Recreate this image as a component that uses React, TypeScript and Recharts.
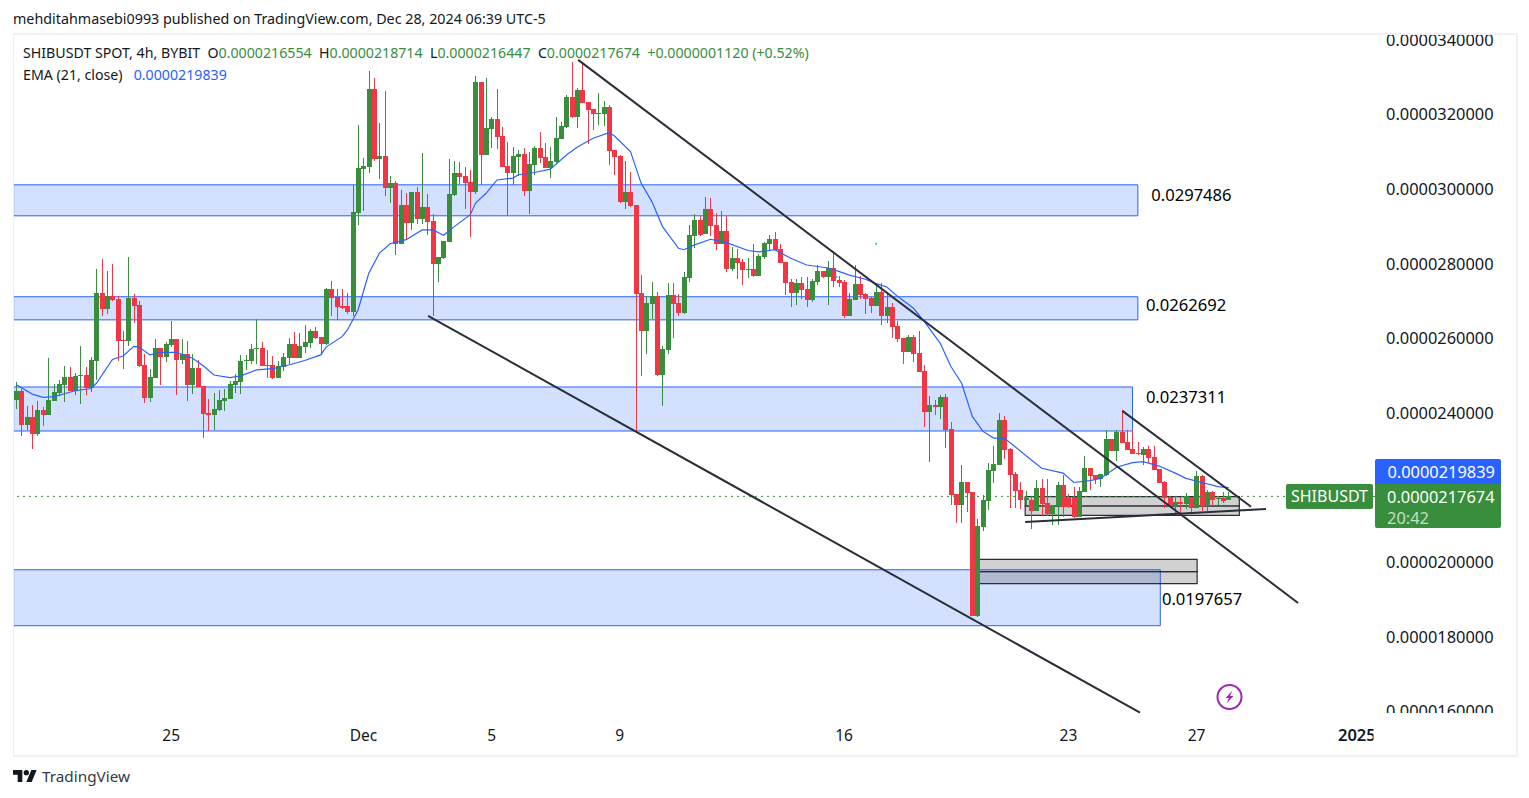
import React from 'react';
import {
    ComposedChart,
    Bar,
    Line,
    XAxis,
    YAxis,
    ReferenceArea,
    ReferenceLine,
    ReferenceDot
} from 'recharts';

// all prices are in millionths of a USDT (24.00 = 0.0000240000)
const opens = [
    24.34,24.58,23.65,23.88,23.42,24.07,23.93,24.31,24.52,24.74,
    24.95,24.58,24.98,25.00,24.66,25.38,27.20,26.78,27.12,27.04,
    25.94,25.90,27.07,26.88,25.27,24.39,24.93,25.73,25.49,25.81,
    25.97,25.41,25.57,24.74,25.19,24.71,23.99,23.93,24.07,24.31,
    24.36,24.74,24.82,25.38,25.38,25.70,25.73,25.27,25.27,24.93,
    25.22,25.46,25.84,25.46,25.76,25.86,26.19,26.02,25.84,27.31,
    27.10,26.86,26.86,26.69,29.35,30.53,30.58,32.67,30.80,30.88,
    30.02,30.15,28.52,29.56,29.08,29.91,29.19,29.51,29.13,27.98,
    28.14,28.57,29.83,30.42,30.34,30.18,29.91,32.86,30.90,31.60,
    31.87,31.41,30.61,30.42,30.85,30.93,29.94,30.63,31.09,30.85,
    30.56,30.72,31.33,31.65,32.46,31.92,32.65,32.32,32.14,32.00,
    32.00,32.19,31.04,30.88,29.64,29.91,29.56,27.20,26.18,26.91,
    27.12,25.00,25.68,27.15,26.94,26.67,27.61,28.73,29.16,28.79,
    29.46,29.03,28.52,28.87,27.85,28.14,28.04,27.82,27.85,27.66,
    28.17,28.52,28.65,28.38,28.04,27.50,27.20,27.47,27.31,27.02,
    27.50,27.79,27.63,27.87,27.55,27.50,26.59,27.02,27.45,27.18,
    27.07,26.85,27.23,26.59,26.83,26.32,26.00,25.62,26.02,25.59,
    25.11,24.01,24.20,24.15,24.41,23.56,21.81,21.52,22.14,21.87,
    18.54,20.93,21.63,22.43,22.59,23.80,23.02,22.35,21.92,21.65,
    21.65,21.36,21.98,21.57,21.28,21.49,22.06,21.73,21.73,21.20,
    21.87,22.51,22.32,22.22,22.32,23.29,22.97,23.48,23.21,23.02,
    22.91,22.86,23.02,22.81,22.48,22.14,21.73,21.49,21.60,21.55,
    21.73,21.44,22.30,21.49,21.87,21.68,21.71,21.6554
];
const highs = [
    24.82,24.63,24.17,24.20,24.31,24.15,25.46,24.76,24.87,25.25,
    25.22,25.06,25.78,25.22,25.49,27.85,28.12,27.79,27.98,27.12,
    26.19,28.17,27.18,26.99,25.57,25.17,25.97,25.73,25.89,26.46,
    25.97,25.97,25.92,25.57,25.41,24.71,24.36,24.52,24.60,24.63,
    24.85,25.03,25.54,25.54,25.84,26.51,25.89,25.68,25.52,25.38,
    25.60,26.00,26.16,26.13,26.35,26.24,26.29,26.02,27.34,27.53,
    27.31,27.31,27.20,30.10,31.71,30.81,33.16,32.97,31.76,32.62,
    30.34,30.21,29.97,29.89,29.91,30.05,30.96,29.86,29.32,28.17,
    28.60,30.80,30.74,30.72,30.58,30.50,33.02,32.86,32.97,31.92,
    32.67,31.65,31.25,31.12,31.04,31.09,30.98,31.15,31.52,31.23,
    31.12,31.92,31.79,32.51,33.40,32.70,33.40,32.32,32.14,32.57,
    32.35,32.24,31.04,30.90,30.74,30.45,29.56,27.69,27.12,27.50,
    27.23,25.78,27.47,27.47,27.18,27.77,29.03,29.32,29.27,29.78,
    29.75,29.35,29.40,29.27,28.44,28.38,28.12,28.14,28.52,28.25,
    28.57,28.76,28.84,28.52,28.04,27.58,27.58,27.63,27.63,27.58,
    27.95,27.79,28.06,28.33,27.66,27.55,27.20,27.95,27.66,27.20,
    27.10,27.39,27.47,27.23,26.94,26.45,26.00,26.08,26.08,26.18,
    25.27,24.44,24.33,24.47,24.50,23.75,21.81,22.59,22.14,21.87,
    21.14,21.79,22.65,23.10,23.99,23.91,23.05,22.40,22.14,21.90,
    21.73,22.19,22.22,22.22,21.52,22.14,22.32,21.81,22.00,22.00,
    22.83,22.51,22.32,22.35,23.53,23.29,23.53,24.07,23.53,23.53,
    23.21,23.07,23.10,23.10,22.48,22.16,21.76,21.76,21.73,21.84,
    21.73,22.43,22.32,21.92,21.90,21.76,21.87,21.8714
];
const lows = [
    24.09,23.38,23.53,23.02,23.38,23.65,23.93,24.31,24.44,24.28,
    24.58,24.47,24.23,24.47,24.55,24.87,26.59,26.64,26.99,25.38,
    25.17,25.78,26.40,25.22,24.26,24.28,24.93,24.74,25.35,25.76,
    24.47,25.30,24.31,24.50,24.68,23.32,23.50,23.53,24.04,24.04,
    24.36,24.52,24.50,25.14,25.30,25.30,25.25,24.93,24.90,24.93,
    25.11,25.30,25.46,25.46,25.60,25.73,25.97,25.54,25.81,26.59,
    26.48,26.78,26.64,26.60,29.03,29.40,30.42,30.74,30.26,29.80,
    29.62,28.22,28.52,28.65,28.89,29.05,29.05,28.76,26.59,27.50,
    28.12,28.57,29.80,30.14,29.46,28.71,29.86,30.10,30.90,31.09,
    31.06,30.58,29.27,30.10,30.34,29.80,29.32,30.37,30.69,30.56,
    30.29,30.69,31.33,31.63,31.90,31.63,32.30,31.20,31.57,31.71,
    31.68,30.63,30.37,29.62,29.46,29.51,23.49,24.98,25.57,26.51,
    24.98,24.17,25.57,26.00,26.59,26.64,27.50,28.41,28.73,28.79,
    28.73,28.36,28.52,27.77,27.79,27.58,27.42,27.61,27.63,27.66,
    28.12,28.36,28.36,28.01,27.15,26.83,26.88,27.04,26.83,26.96,
    27.42,27.61,26.88,27.36,27.36,26.53,26.59,27.02,27.04,26.64,
    26.67,26.85,26.35,26.40,26.00,25.89,25.30,25.62,25.35,25.09,
    23.61,22.68,23.93,23.82,23.05,21.52,21.04,21.04,21.33,18.54,
    18.52,20.82,21.39,22.11,22.59,22.75,21.44,21.44,21.41,21.52,
    20.88,21.36,21.22,21.22,20.98,20.98,21.20,21.44,21.17,21.20,
    21.87,21.92,22.08,22.00,22.30,22.97,22.70,23.18,22.99,22.89,
    22.86,22.59,22.65,22.46,22.11,21.44,21.44,21.28,21.25,21.41,
    21.33,21.44,21.36,21.36,21.49,21.52,21.57,21.6447
];
const closes = [
    24.58,23.65,23.88,23.42,24.07,23.93,24.34,24.55,24.76,24.95,
    24.58,24.98,25.00,24.66,25.41,27.20,26.78,27.12,27.02,25.92,
    25.90,27.07,26.86,25.25,24.39,24.95,25.73,25.49,25.84,25.97,
    25.41,25.57,24.74,25.19,24.68,23.96,23.93,24.09,24.34,24.39,
    24.76,24.85,25.38,25.41,25.70,25.73,25.25,25.25,24.93,25.25,
    25.49,25.84,25.46,25.78,25.89,26.19,26.00,25.84,27.31,27.07,
    26.83,26.80,26.69,29.38,30.56,30.61,32.67,30.80,30.88,30.02,
    30.15,28.52,29.56,29.08,29.91,29.19,29.51,29.11,27.98,28.17,
    28.60,29.86,30.42,30.31,30.15,29.91,32.86,30.90,31.63,31.87,
    31.39,30.58,30.42,30.88,30.93,29.94,30.66,31.09,30.82,30.56,
    30.74,31.36,31.68,32.46,31.92,32.65,32.30,32.11,32.00,32.03,
    32.19,31.01,30.85,29.64,29.91,29.54,27.18,26.18,26.94,27.12,
    25.00,25.70,27.15,26.91,26.67,27.63,28.76,29.16,28.76,29.46,
    29.00,28.52,28.87,27.85,28.14,28.01,27.82,27.85,27.66,28.20,
    28.54,28.65,28.36,28.01,27.47,27.20,27.47,27.28,27.02,27.53,
    27.79,27.63,27.87,27.53,27.47,26.59,27.04,27.45,27.15,27.04,
    26.85,27.23,26.59,26.83,26.29,25.97,25.62,26.02,25.57,25.09,
    24.01,24.20,24.15,24.41,23.53,21.79,21.52,22.14,21.84,18.54,
    20.96,21.65,22.46,22.62,23.80,22.99,22.32,21.90,21.65,21.71,
    21.36,21.98,21.55,21.28,21.52,22.06,21.47,21.47,21.20,21.90,
    22.51,22.30,22.22,22.35,23.29,22.97,23.48,23.18,22.99,22.89,
    22.89,23.02,22.78,22.46,22.11,21.71,21.49,21.60,21.55,21.76,
    21.44,22.30,21.49,21.87,21.65,21.71,21.63,21.7674
];

const emaBars = [
    0,3,5,7,9,11,14,15,18,20,22,23,25,27,30,33,35,37,40,42,45,48,51,54,57,58,61,62,
    64,66,68,70,73,76,78,80,82,85,86,88,90,93,94,97,100,103,105,108,111,112,115,117,119,
    121,124,125,127,130,133,137,139,142,145,148,152,154,156,159,161,163,165,168,170,173,175,177,
    179,181,183,185,187,190,192,196,198,201,203,206,209,211,214,217,219,222,225,227
];
const emaValues = [
    24.74,24.49,24.40,24.42,24.50,24.58,24.64,24.78,25.42,25.51,25.77,25.75,25.54,25.61,25.61,25.45,25.25,25.00,24.93,24.98,25.14,25.17,25.27,25.39,25.54,25.75,26.03,26.21,
    26.75,27.73,28.27,28.52,28.63,28.89,28.89,28.75,28.98,29.30,29.61,29.88,30.23,30.28,30.37,30.43,30.52,30.90,31.11,31.35,31.50,31.41,30.99,30.14,29.65,
    28.98,28.40,28.36,28.49,28.64,28.55,28.34,28.30,28.36,28.13,27.95,27.87,27.78,27.68,27.57,27.45,27.36,27.11,26.79,26.44,25.85,25.23,24.78,
    23.89,23.49,23.31,23.31,23.08,22.73,22.50,22.37,22.12,22.17,22.23,22.53,22.65,22.68,22.56,22.37,22.23,22.12,22.01,21.9839
];

const priceTicks = [16, 18, 20, 24, 26, 28, 30, 32, 34];
const timeTickBars = [29, 65, 89, 113, 155, 197, 221, 251];
const timeTickLabels = ['25', 'Dec', '5', '9', '16', '23', '27', '2025'];
const boldTimeTicks = ['2025'];

const zoneTops = [30.10, 27.10, 24.68, 19.78];
const zoneBottoms = [29.27, 26.48, 23.50, 18.28];
const zoneStart = -0.5;
const zoneEnds = [210, 210, 209, 214.2];
const zoneTexts = ['0.0297486', '0.0262692', '0.0237311', '0.0197657'];
const zoneTextBars = [212.5, 211.5, 211.5, 214.5];
const zoneTextPrices = [29.83, 26.88, 24.40, 19.00];

// grey range boxes: [first bar, last bar, top, middle, bottom]
const rangeBoxA = [188.9, 229, 21.74, 21.49, 21.24];
const rangeBoxB = [180.3, 221.1, 20.06, 19.73, 19.41];

// drawn trend lines: [bar, price, bar, price]
const trendLines = [
    [105.2, 33.45, 240, 18.89],
    [77.1, 26.59, 210.4, 15.95],
    [207.1, 24.04, 231.2, 21.47],
    [188.9, 21.06, 234, 21.41]
];
const tealMarkBars = [161, 153.6];
const tealMarkPrices = [28.52, 27.63];

const lastClose = 21.7674;
const barRange = [-0.43, 254.4];
const priceRange = [15.94, 34.09];

const GREEN = '#388e3c';
const RED = '#f23645';
const BLUE = '#2962ff';
const INK = '#131722';
const LINE_INK = '#2a2e39';
const FONT = '"Noto Sans", sans-serif';

const table = opens.map((open, i) => ({
    bar: i,
    open,
    high: highs[i],
    low: lows[i],
    close: closes[i],
    ema: emaBars.includes(i) ? emaValues[emaBars.indexOf(i)] : null
}));

const Candle = (props: any) => {
    const { x, y, width, height, payload } = props;
    const scale = height / (payload.high - payload.low);
    const yOf = (v: number) => y + (payload.high - v) * scale;
    const cx = Math.round(x + width / 2);
    const color = payload.close >= payload.open ? GREEN : RED;
    const top = Math.round(yOf(Math.max(payload.open, payload.close)));
    const bottom = Math.round(yOf(Math.min(payload.open, payload.close)));
    return (
        <g shapeRendering="crispEdges">
            <rect x={cx} y={Math.round(y)} width={1} height={Math.max(1, Math.round(height))} fill={color} />
            <rect x={cx - 2} y={top} width={5} height={Math.max(1, bottom - top)} fill={color} />
        </g>
    );
};

const PriceTick = (props: any) => {
    const { x, y, payload } = props;
    return (
        <g clipPath="url(#priceAxisClip)">
            <text x={x + 3} y={y + 6.5} fontSize={16.4} fontFamily={FONT} fill={INK} textAnchor="start">
                {(payload.value / 1e6).toFixed(10)}
            </text>
        </g>
    );
};

const TimeTick = (props: any) => {
    const { x, y, payload } = props;
    const label = timeTickLabels[timeTickBars.indexOf(payload.value)];
    const bold = boldTimeTicks.includes(label);
    return (
        <g clipPath="url(#timeAxisClip)">
            <text
                x={x}
                y={y + 20}
                fontSize={bold ? 16.5 : 15.5}
                fontFamily={FONT}
                fontWeight={bold ? 600 : 400}
                fill={INK}
                textAnchor="middle"
            >
                {label}
            </text>
        </g>
    );
};

const boxAreas = (box: number[], key: string) => [
    <ReferenceArea key={key + 'top'} x1={box[0]} x2={box[1]} y1={box[3]} y2={box[2]} fill="rgba(90,90,90,0.28)" fillOpacity={1} stroke={LINE_INK} strokeWidth={1.2} />,
    <ReferenceArea key={key + 'bottom'} x1={box[0]} x2={box[1]} y1={box[4]} y2={box[3]} fill="rgba(90,90,90,0.28)" fillOpacity={1} stroke={LINE_INK} strokeWidth={1.2} />
];

const legendValue = { color: GREEN };

const App = () => {
    return (
        <div style={{ position: 'absolute', left: 0, top: 0, width: 1529, height: 798, background: '#fff', fontFamily: FONT, color: INK, overflow: 'hidden' }}>
            <div style={{ position: 'absolute', left: 13, top: 10, fontSize: 14.3, lineHeight: '18px', whiteSpace: 'nowrap' }}>
                mehditahmasebi0993 published on TradingView.com, Dec 28, 2024 06:39 UTC-5
            </div>

            <div style={{ position: 'absolute', left: 0, top: 0 }}>
                <ComposedChart
                    width={1529}
                    height={798}
                    data={table}
                    margin={{ top: 36, right: 13, bottom: 45, left: 14 }}
                >
                    <defs>
                        <clipPath id="priceAxisClip"><rect x={1375} y={35} width={140} height={678} /></clipPath>
                        <clipPath id="timeAxisClip"><rect x={14} y={713} width={1359.5} height={40} /></clipPath>
                    </defs>
                    <XAxis
                        dataKey="bar"
                        type="number"
                        domain={barRange}
                        allowDataOverflow
                        ticks={timeTickBars}
                        tick={<TimeTick />}
                        axisLine={false}
                        tickLine={false}
                        height={40}
                    />
                    <YAxis
                        orientation="right"
                        type="number"
                        domain={priceRange}
                        allowDataOverflow
                        ticks={priceTicks}
                        tick={<PriceTick />}
                        axisLine={false}
                        tickLine={false}
                        width={141}
                    />
                    {zoneTops.map((top, i) => (
                        <ReferenceArea
                            key={'zone' + i}
                            x1={zoneStart}
                            x2={zoneEnds[i]}
                            y1={zoneBottoms[i]}
                            y2={top}
                            ifOverflow="visible"
                            fill={BLUE}
                            fillOpacity={0.2}
                            stroke={BLUE}
                            strokeWidth={1}
                        />
                    ))}
                    {boxAreas(rangeBoxA, 'a')}
                    {boxAreas(rangeBoxB, 'b')}
                    <ReferenceLine y={lastClose - 0.02} stroke={GREEN} strokeWidth={1} strokeDasharray="2 4" />
                    <Bar
                        dataKey={(d: any) => [d.low, d.high]}
                        barSize={5}
                        shape={<Candle />}
                        isAnimationActive={false}
                    />
                    <Line
                        dataKey="ema"
                        stroke={BLUE}
                        strokeWidth={1.2}
                        dot={false}
                        activeDot={false}
                        connectNulls
                        isAnimationActive={false}
                    />
                    {trendLines.map((t, i) => (
                        <ReferenceLine
                            key={'trend' + i}
                            segment={[{ x: t[0], y: t[1] }, { x: t[2], y: t[3] }]}
                            stroke={LINE_INK}
                            strokeWidth={2}
                        />
                    ))}
                    {tealMarkBars.map((b, i) => (
                        <ReferenceDot key={'teal' + i} x={b} y={tealMarkPrices[i]} r={1} fill="#00bcd4" stroke="none" />
                    ))}
                    {zoneTexts.map((text, i) => (
                        <ReferenceDot
                            key={'ztext' + i}
                            x={zoneTextBars[i]}
                            y={zoneTextPrices[i]}
                            r={0}
                            stroke="none"
                            label={{ value: text, position: 'right', offset: 0, fontSize: 16.6, fontFamily: FONT, fill: '#000' }}
                        />
                    ))}
                </ComposedChart>
            </div>

            <div style={{ position: 'absolute', left: 13, top: 33, width: 1502, height: 720, borderStyle: 'solid', borderColor: '#f0f0f5', borderWidth: '2px 2px 2px 1px' }} />

            <div style={{ position: 'absolute', left: 23, top: 44, fontSize: 14.2, lineHeight: '18px', whiteSpace: 'pre' }}>
                {'SHIBUSDT SPOT, 4h, BYBIT  O'}<span style={legendValue}>0.0000216554</span>
                {'  H'}<span style={legendValue}>0.0000218714</span>
                {'  L'}<span style={legendValue}>0.0000216447</span>
                {'  C'}<span style={legendValue}>0.0000217674</span>
                <span style={legendValue}>{'  +0.0000001120 (+0.52%)'}</span>
            </div>
            <div style={{ position: 'absolute', left: 23, top: 66, fontSize: 14.2, lineHeight: '18px', whiteSpace: 'pre' }}>
                {'EMA (21, close)   '}<span style={{ color: BLUE }}>0.0000219839</span>
            </div>

            <div style={{ position: 'absolute', left: 1286, top: 484, width: 87, height: 25, background: GREEN, borderRadius: 2, color: '#fff', fontSize: 16, lineHeight: '25px', textAlign: 'center' }}>SHIBUSDT</div>
            <div style={{ position: 'absolute', left: 1375, top: 459, width: 126, height: 25, background: BLUE, borderRadius: '2px 2px 0 0', color: '#fff', fontSize: 16.4, lineHeight: '25px', textAlign: 'right', paddingRight: 6, boxSizing: 'border-box' }}>0.0000219839</div>
            <div style={{ position: 'absolute', left: 1375, top: 484, width: 126, height: 44, background: GREEN, borderRadius: '0 0 2px 2px', color: '#fff', fontSize: 16.4, lineHeight: '21px', paddingLeft: 12, paddingTop: 2, boxSizing: 'border-box' }}>
                <div>0.0000217674</div>
                <div style={{ opacity: 0.7 }}>20:42</div>
            </div>

            <svg style={{ position: 'absolute', left: 1216, top: 684 }} width={27} height={27} viewBox="0 0 27 27">
                <circle cx={13.5} cy={13} r={12} fill="none" stroke="#9c27b0" strokeWidth={2} />
                <path d="M16.5 6.5 L9.5 14 L13 14 L10.5 19.5 L17.5 12 L14 12 Z" fill="#9c27b0" />
            </svg>

            <svg style={{ position: 'absolute', left: 13, top: 770 }} width={24} height={12} viewBox="0 4 36 18">
                <path d="M14 22H7V11H0V4h14v18ZM28 22h-8l7.5-18h8L28 22Z" fill={INK} />
                <circle cx={20} cy={8} r={4} fill={INK} />
            </svg>
            <div style={{ position: 'absolute', left: 42, top: 766, fontSize: 15.3, lineHeight: '20px', color: '#363a45' }}>TradingView</div>
        </div>
    );
};

export default App;
